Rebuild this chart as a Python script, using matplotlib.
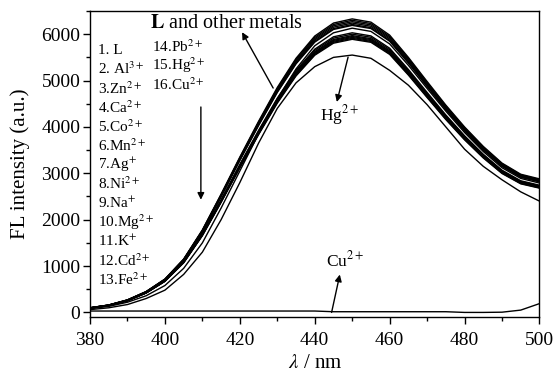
import matplotlib
matplotlib.use('Agg')
import matplotlib.pyplot as plt
from matplotlib.ticker import MultipleLocator

plt.rcParams['font.family'] = ['Liberation Serif', 'DejaVu Serif']
plt.rcParams['mathtext.fontset'] = 'stix'

# wavelength grid (nm) and spectra
wl = [380, 385, 390, 395, 400, 405, 410, 415, 420, 425, 430, 435, 440,
      445, 450, 455, 460, 465, 470, 475, 480, 485, 490, 495, 500]

# L and other metal ions (upper band)
s_l  = [100, 160, 270, 450, 720, 1150, 1780, 2550, 3350, 4120, 4850, 5480, 5960, 6240, 6330, 6260, 5980, 5500, 4980, 4470, 4000, 3580, 3220, 2980, 2880]
s_al = [100, 160, 270, 450, 715, 1145, 1770, 2540, 3335, 4100, 4825, 5455, 5930, 6210, 6300, 6230, 5950, 5475, 4955, 4450, 3980, 3560, 3205, 2965, 2865]
s_zn = [99, 158, 267, 446, 713, 1139, 1763, 2526, 3318, 4081, 4804, 5428, 5903, 6181, 6270, 6201, 5923, 5448, 4933, 4428, 3962, 3546, 3189, 2952, 2853]
s_ca = [99, 158, 266, 444, 710, 1134, 1755, 2514, 3302, 4061, 4781, 5402, 5875, 6151, 6240, 6171, 5895, 5422, 4909, 4407, 3943, 3529, 3174, 2938, 2839]
s_co = [98, 157, 265, 441, 706, 1128, 1746, 2502, 3286, 4042, 4758, 5376, 5847, 6121, 6210, 6141, 5866, 5396, 4885, 4385, 3924, 3512, 3159, 2923, 2825]
s_mn = [98, 156, 264, 440, 704, 1125, 1741, 2494, 3276, 4029, 4743, 5359, 5828, 6102, 6190, 6122, 5848, 5378, 4870, 4371, 3912, 3501, 3149, 2914, 2816]
s_ag = [80, 130, 220, 360, 580, 950, 1500, 2250, 3050, 3850, 4600, 5250, 5750, 6030, 6130, 6060, 5790, 5330, 4830, 4340, 3880, 3470, 3120, 2890, 2790]
s_ni = [95, 152, 257, 429, 686, 1095, 1696, 2429, 3191, 3925, 4620, 5220, 5677, 5944, 6030, 5963, 5697, 5239, 4744, 4258, 3810, 3410, 3067, 2839, 2743]
s_na = [95, 152, 256, 427, 683, 1090, 1687, 2417, 3175, 3905, 4597, 5195, 5650, 5915, 6000, 5934, 5668, 5213, 4720, 4237, 3792, 3393, 3052, 2825, 2730]
s_mg = [94, 151, 255, 424, 679, 1085, 1679, 2405, 3159, 3886, 4574, 5168, 5621, 5885, 5970, 5904, 5640, 5187, 4697, 4216, 3772, 3376, 3037, 2810, 2716]
s_k  = [94, 150, 254, 423, 677, 1081, 1673, 2397, 3149, 3873, 4559, 5151, 5602, 5866, 5950, 5884, 5621, 5170, 4681, 4202, 3760, 3365, 3027, 2801, 2707]
s_cd = [94, 150, 253, 422, 675, 1077, 1667, 2389, 3138, 3860, 4543, 5134, 5583, 5846, 5930, 5864, 5602, 5152, 4665, 4187, 3747, 3354, 3016, 2792, 2698]
s_fe = [93, 149, 252, 420, 672, 1074, 1662, 2381, 3128, 3846, 4528, 5116, 5564, 5826, 5910, 5844, 5583, 5135, 4649, 4173, 3734, 3342, 3006, 2782, 2689]
s_pb = [93, 149, 251, 419, 670, 1070, 1656, 2373, 3117, 3834, 4513, 5099, 5546, 5806, 5890, 5825, 5564, 5118, 4634, 4159, 3722, 3331, 2996, 2773, 2680]
# quenched spectra
s_hg = [60, 100, 170, 300, 480, 820, 1300, 2000, 2800, 3650, 4400, 4950, 5300, 5500, 5550, 5480, 5220, 4900, 4480, 4000, 3520, 3150, 2860, 2600, 2400]
s_cu = [30, 30, 30, 30, 30, 30, 30, 30, 30, 30, 30, 30, 30, 15, 15, 15, 15, 15, 15, 15, 0, 0, 5, 50, 190]

spectra = [s_l, s_al, s_zn, s_ca, s_co, s_mn, s_ag, s_ni, s_na, s_mg,
           s_k, s_cd, s_fe, s_pb, s_hg, s_cu]

col1 = ['1. L', '2. Al$^{3+}$', '3.Zn$^{2+}$', '4.Ca$^{2+}$', '5.Co$^{2+}$',
        '6.Mn$^{2+}$', '7.Ag$^{+}$', '8.Ni$^{2+}$', '9.Na$^{+}$',
        '10.Mg$^{2+}$', '11.K$^{+}$', '12.Cd$^{2+}$', '13.Fe$^{2+}$']
col2 = ['14.Pb$^{2+}$', '15.Hg$^{2+}$', '16.Cu$^{2+}$']

fig = plt.figure(figsize=(5.58, 3.77), dpi=100)
ax = fig.add_axes([0.1613, 0.159, 0.8055, 0.8118])

for s in spectra:
    ax.plot(wl, s, color='black', lw=1.0)

ax.set_xlim(380, 500)
ax.set_ylim(-100, 6500)
ax.xaxis.set_major_locator(MultipleLocator(20))
ax.xaxis.set_minor_locator(MultipleLocator(10))
ax.yaxis.set_major_locator(MultipleLocator(1000))
ax.yaxis.set_minor_locator(MultipleLocator(500))
ax.tick_params(which='major', direction='out', length=5, width=1, labelsize=14)
ax.tick_params(axis='x', which='major', pad=6)
ax.tick_params(axis='y', which='major', pad=2)
ax.tick_params(which='minor', direction='out', length=3, width=1)
ax.tick_params(top=False, right=False, which='both')
for sp in ax.spines.values():
    sp.set_linewidth(1.0)

ax.set_xlabel(r'$\lambda$ / nm', fontsize=15, labelpad=3)
ax.set_ylabel('FL intensity (a.u.)', fontsize=15, labelpad=8)

# ion list
for i, t in enumerate(col1):
    ax.text(0.018, 0.8725 - i * 0.0625, t, transform=ax.transAxes,
            fontsize=11, va='center', ha='left')
for i, t in enumerate(col2):
    ax.text(0.138, 0.885 - i * 0.0625, t, transform=ax.transAxes,
            fontsize=11, va='center', ha='left')

# annotations
ax.text(416.3, 6237, r'$\mathbf{L}$ and other metals', fontsize=14.5,
        ha='center', va='center')
ax.annotate('', xy=(420.6, 6043), xytext=(428.9, 4839),
            arrowprops=dict(arrowstyle='-|>', color='black', lw=1,
                            mutation_scale=10, shrinkA=0, shrinkB=0))
ax.text(446.7, 4250, 'Hg$^{2+}$', fontsize=12.5, ha='center', va='center')
ax.annotate('', xy=(445.9, 4538), xytext=(448.9, 5505),
            arrowprops=dict(arrowstyle='-|>', color='black', lw=1,
                            mutation_scale=10, shrinkA=0, shrinkB=0))
ax.annotate('', xy=(409.6, 2430), xytext=(409.6, 4430),
            arrowprops=dict(arrowstyle='-|>', color='black', lw=1,
                            mutation_scale=10, shrinkA=0, shrinkB=0))
ax.text(448.1, 1118, 'Cu$^{2+}$', fontsize=12.5, ha='center', va='center')
ax.annotate('', xy=(446.7, 817), xytext=(444.5, 0),
            arrowprops=dict(arrowstyle='-|>', color='black', lw=1,
                            mutation_scale=10, shrinkA=0, shrinkB=0))

fig.savefig('out.png', dpi=100)
